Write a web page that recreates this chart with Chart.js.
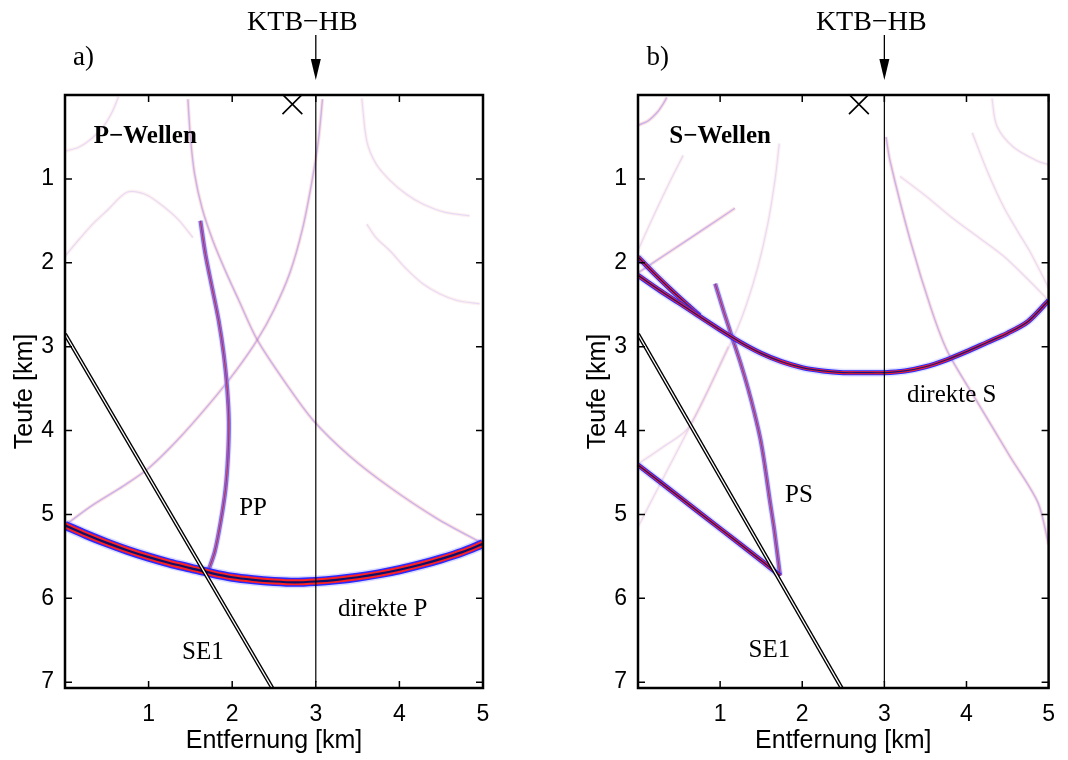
<!DOCTYPE html>
<html>
<head>
<meta charset="utf-8">
<script src="https://cdn.jsdelivr.net/npm/chart.js@4.4.1/dist/chart.umd.min.js"></script>
<style>
  html, body { margin: 0; padding: 0; background: #fff; }
  #wrap { position: relative; width: 1068px; height: 760px; }
  canvas { position: absolute; top: 0; }
</style>
</head>
<body>
<div id="wrap">
  <canvas id="chartP" width="534" height="760" style="left:0"></canvas>
  <canvas id="chartS" width="495" height="760" style="left:573px"></canvas>
</div>
<script>
// axes
const xTicks = [1, 2, 3, 4, 5];
const yTicks = [1, 2, 3, 4, 5, 6, 7];
const wellX = 3;

// well, fault and source, [x km, depth km]
const wellTrack = [[3, 0], [3, 7]];
const se1Trace = [[0, 2.85], [2.48, 7.07]];
const sourceP = [[2.72, 0.11]];
const sourceS = [[2.69, 0.11]];

// a) P-Wellen
const directP = [[0, 5.13], [0.25, 5.24], [0.5, 5.34], [0.75, 5.43], [1, 5.51], [1.25, 5.58], [1.5, 5.64],
  [1.75, 5.70], [2, 5.75], [2.25, 5.78], [2.5, 5.80], [2.75, 5.81], [3, 5.80], [3.25, 5.78], [3.5, 5.75],
  [3.75, 5.71], [4, 5.66], [4.25, 5.60], [4.5, 5.53], [4.75, 5.45], [5, 5.35]];
const reflPP = [[1.62, 1.5], [1.68, 1.9], [1.76, 2.3], [1.84, 2.7], [1.90, 3.1], [1.94, 3.5], [1.96, 3.9],
  [1.95, 4.3], [1.92, 4.7], [1.86, 5.1], [1.79, 5.45], [1.70, 5.71]];
const pArc1 = [[0, 0.67], [0.17, 0.62], [0.33, 0.51], [0.47, 0.36], [0.57, 0.19], [0.64, 0.02]];
const pArc2 = [[0, 1.92], [0.17, 1.72], [0.33, 1.54], [0.5, 1.38], [0.74, 1.16], [0.95, 1.18], [1.14, 1.3],
  [1.35, 1.48], [1.53, 1.7]];
const pArc3 = [[1.47, 0.05], [1.50, 0.5], [1.55, 0.94], [1.64, 1.35], [1.77, 1.74], [1.92, 2.1], [2.08, 2.45],
  [2.3, 2.92], [2.65, 3.45], [2.97, 3.88], [3.4, 4.3], [3.89, 4.68], [4.45, 5.05], [5, 5.35]];
const pArc4 = [[0, 5.13], [0.33, 4.89], [0.7, 4.66], [1.0, 4.45], [1.34, 4.12], [1.73, 3.68], [2.05, 3.28],
  [2.3, 2.92], [2.5, 2.56], [2.69, 2.12], [2.84, 1.6], [2.95, 1.05], [3.03, 0.55], [3.08, 0.05]];
const pArc5 = [[3.55, 0.04], [3.61, 0.55], [3.72, 0.82], [3.89, 1.02], [4.08, 1.18], [4.28, 1.3], [4.55, 1.4], [4.84, 1.44]];
const pArc6 = [[3.61, 1.54], [3.72, 1.7], [3.89, 1.86], [4.08, 2.07], [4.28, 2.25], [4.48, 2.37], [4.69, 2.45], [4.96, 2.49]];

// b) S-Wellen
const directS = [[0, 2.15], [0.25, 2.32], [0.5, 2.48], [0.75, 2.64], [1, 2.8], [1.25, 2.95], [1.5, 3.08],
  [1.75, 3.18], [2, 3.25], [2.25, 3.29], [2.5, 3.31], [2.75, 3.31], [3, 3.31], [3.25, 3.29], [3.5, 3.24],
  [3.75, 3.16], [4, 3.06], [4.25, 2.95], [4.5, 2.84], [4.75, 2.70], [5, 2.45]];
const sUpper = [[0, 1.93], [0.2, 2.13], [0.4, 2.32], [0.6, 2.5], [0.75, 2.63]];
const sLower = [[0, 4.41], [0.5, 4.79], [1, 5.17], [1.5, 5.55], [1.73, 5.73]];
const convPS = [[0.94, 2.25], [1.05, 2.6], [1.16, 2.93], [1.25, 3.2], [1.34, 3.5], [1.42, 3.8], [1.49, 4.1],
  [1.54, 4.39], [1.6, 4.8], [1.66, 5.19], [1.73, 5.73]];
const sArc1 = [[0, 0.36], [0.12, 0.31], [0.24, 0.2], [0.31, 0.1], [0.35, 0.03]];
const sArc2 = [[0, 1.85], [0.2, 1.42], [0.38, 1.05], [0.55, 0.72]];
const sArc3 = [[0, 2.12], [0.4, 1.86], [0.8, 1.6], [1.18, 1.35]];
const sArc4 = [[1.72, 0.58], [1.67, 1.0], [1.58, 1.54], [1.46, 2.05], [1.32, 2.5], [1.18, 2.85], [0.7, 3.82], [0.3, 4.58], [0, 5.15]];
const sArc5 = [[1.10, 3.0], [0.62, 3.96], [0.3, 4.2], [0, 4.4]];
const sArc6 = [[3.19, 0.97], [3.5, 1.2], [3.82, 1.46], [4.15, 1.7], [4.45, 1.92], [4.75, 2.2], [5, 2.45]];
const sArc7 = [[4.07, 0.45], [4.25, 0.9], [4.45, 1.33], [4.62, 1.62], [4.78, 1.88], [5, 2.3]];
const sArc8 = [[4.31, 0.04], [4.37, 0.37], [4.57, 0.62], [4.87, 0.79], [5, 0.83]];
const sArc9 = [[3.02, 0.5], [3.07, 0.79], [3.32, 1.75], [3.57, 2.55], [3.77, 3.06], [4.12, 3.64], [4.53, 4.31], [4.87, 4.86], [5, 5.36]];

// stroke layers [width, colour], outermost first
const thick = [[12, 'rgba(110,110,255,0.25)'], [9, '#2a2aff'], [6, '#ff2020'], [2.2, '#10106a']];
const medium = [[8, 'rgba(110,110,255,0.2)'], [5, '#2a2aff'], [3, '#ff2020'], [1.2, '#151580']];
const thin = [[6, 'rgba(150,150,255,0.3)'], [4, '#6a6aff'], [2.2, '#ff5a5a'], [0.8, '#3a3ad0']];
const faintStrong = [[3.5, 'rgba(255,150,150,0.3)'], [1.4, 'rgba(120,120,255,0.42)']];
const faint = [[3.5, 'rgba(255,170,170,0.16)'], [1.2, 'rgba(150,150,255,0.24)']];

const serif = '"Liberation Serif", serif';

function wave(points, layers, order) {
  return layers.map(([w, c], i) => ({
    data: points.map(([x, y]) => ({ x, y })),
    showLine: true,
    borderColor: c,
    borderWidth: w,
    pointRadius: 0,
    tension: 0.3,
    clip: 0,
    order: order - i * 0.01
  }));
}

function se1(points) {
  return [
    { data: points.map(([x, y]) => ({ x, y })), showLine: true, borderColor: '#000', borderWidth: 4, pointRadius: 0, clip: 0, order: 20 },
    { data: points.map(([x, y]) => ({ x, y })), showLine: true, borderColor: '#fff', borderWidth: 1.3, pointRadius: 0, clip: 0, order: 19 }
  ];
}

function well() {
  return { data: wellTrack.map(([x, y]) => ({ x, y })), showLine: true, borderColor: '#000', borderWidth: 1.2, pointRadius: 0, order: 18 };
}

function source(points) {
  return {
    data: points.map(([x, y]) => ({ x, y })),
    showLine: false,
    pointStyle: 'crossRot',
    pointRadius: 14,
    borderColor: '#000',
    borderWidth: 1.6,
    clip: false,
    order: 10
  };
}

const frame = {
  id: 'frame',
  afterDatasetsDraw(chart, args, opts) {
    const { ctx, chartArea: a, scales: { x, y } } = chart;
    ctx.save();
    ctx.strokeStyle = '#000';
    ctx.fillStyle = '#000';
    ctx.lineWidth = 1.5;
    ctx.beginPath();
    xTicks.forEach(v => {
      const px = x.getPixelForValue(v);
      ctx.moveTo(px, a.top); ctx.lineTo(px, a.top + 7);
      ctx.moveTo(px, a.bottom); ctx.lineTo(px, a.bottom - 7);
    });
    yTicks.forEach(v => {
      const py = y.getPixelForValue(v);
      ctx.moveTo(a.left, py); ctx.lineTo(a.left + 7, py);
      ctx.moveTo(a.right, py); ctx.lineTo(a.right - 7, py);
    });
    ctx.stroke();
    ctx.lineWidth = 2.5;
    ctx.strokeRect(a.left, a.top, a.width, a.height);

    // arrow pointing at the well head
    const wx = x.getPixelForValue(wellX);
    ctx.lineWidth = 1.3;
    ctx.beginPath();
    ctx.moveTo(wx, a.top - 60);
    ctx.lineTo(wx, a.top - 32);
    ctx.stroke();
    ctx.beginPath();
    ctx.moveTo(wx - 5, a.top - 36);
    ctx.lineTo(wx + 5, a.top - 36);
    ctx.lineTo(wx, a.top - 15);
    ctx.closePath();
    ctx.fill();

    ctx.textAlign = 'center';
    ctx.textBaseline = 'middle';
    opts.labels.forEach(l => {
      ctx.font = l.font;
      ctx.fillText(l.text, x.getPixelForValue(l.x), y.getPixelForValue(l.y));
    });
    ctx.restore();
  }
};

function makeChart(id, padRight, datasets, labels) {
  return new Chart(document.getElementById(id), {
    type: 'scatter',
    data: { datasets },
    options: {
      responsive: false,
      animation: false,
      layout: { padding: { top: 95, right: padRight, bottom: 0, left: 0 } },
      scales: {
        x: {
          type: 'linear', min: 0, max: 5,
          afterBuildTicks: s => { s.ticks = xTicks.map(v => ({ value: v })); },
          afterFit: s => { s.height = 72; },
          grid: { display: false, drawTicks: false },
          border: { display: false },
          ticks: { padding: 13, color: '#000', font: { family: 'Liberation Sans', size: 23 } },
          title: { display: true, text: 'Entfernung [km]', color: '#000', font: { family: 'Liberation Sans', size: 25 }, padding: { top: 0, bottom: 4 } }
        },
        y: {
          type: 'linear', reverse: true, min: 0, max: 7.07,
          afterBuildTicks: s => { s.ticks = yTicks.map(v => ({ value: v })); },
          afterFit: s => { s.width = 65; },
          grid: { display: false, drawTicks: false },
          border: { display: false },
          ticks: { padding: 11, color: '#000', font: { family: 'Liberation Sans', size: 23 } },
          title: { display: true, text: 'Teufe [km]', color: '#000', font: { family: 'Liberation Sans', size: 25 }, padding: { top: 10, bottom: 0 } }
        }
      },
      plugins: {
        legend: { display: false },
        tooltip: { enabled: false },
        frame: { labels }
      }
    },
    plugins: [frame]
  });
}

makeChart('chartP', 51, [
  source(sourceP),
  well(),
  ...se1(se1Trace),
  ...wave(directP, thick, 100),
  ...wave(reflPP, thin, 110),
  ...wave(pArc3, faintStrong, 200),
  ...wave(pArc4, faintStrong, 201),
  ...wave(pArc1, faint, 210),
  ...wave(pArc2, faint, 211),
  ...wave(pArc5, faint, 212),
  ...wave(pArc6, faint, 213)
], [
  { text: 'a)', x: 0.22, y: -0.44, font: '27px ' + serif },
  { text: 'KTB\u2212HB', x: 2.84, y: -0.86, font: '28px ' + serif },
  { text: 'P\u2212Wellen', x: 0.96, y: 0.49, font: 'bold 25px ' + serif },
  { text: 'PP', x: 2.25, y: 4.93, font: '25px ' + serif },
  { text: 'direkte P', x: 3.80, y: 6.13, font: '25px ' + serif },
  { text: 'SE1', x: 1.65, y: 6.65, font: '25px ' + serif }
]);

makeChart('chartS', 11, [
  source(sourceS),
  well(),
  ...se1(se1Trace),
  ...wave(directS, medium, 100),
  ...wave(sUpper, medium, 101),
  ...wave(sLower, medium, 102),
  ...wave(convPS, thin, 110),
  ...wave(sArc1, faintStrong, 200),
  ...wave(sArc9, faintStrong, 201),
  ...wave(sArc3, faintStrong, 202),
  ...wave(sArc4, faint, 210),
  ...wave(sArc5, faint, 211),
  ...wave(sArc2, faint, 212),
  ...wave(sArc6, faint, 213),
  ...wave(sArc7, faint, 214),
  ...wave(sArc8, faint, 215)
], [
  { text: 'b)', x: 0.24, y: -0.44, font: '27px ' + serif },
  { text: 'KTB\u2212HB', x: 2.84, y: -0.86, font: '28px ' + serif },
  { text: 'S\u2212Wellen', x: 1.0, y: 0.49, font: 'bold 25px ' + serif },
  { text: 'PS', x: 1.96, y: 4.77, font: '25px ' + serif },
  { text: 'direkte S', x: 3.82, y: 3.58, font: '25px ' + serif },
  { text: 'SE1', x: 1.60, y: 6.62, font: '25px ' + serif }
]);
</script>
</body>
</html>
